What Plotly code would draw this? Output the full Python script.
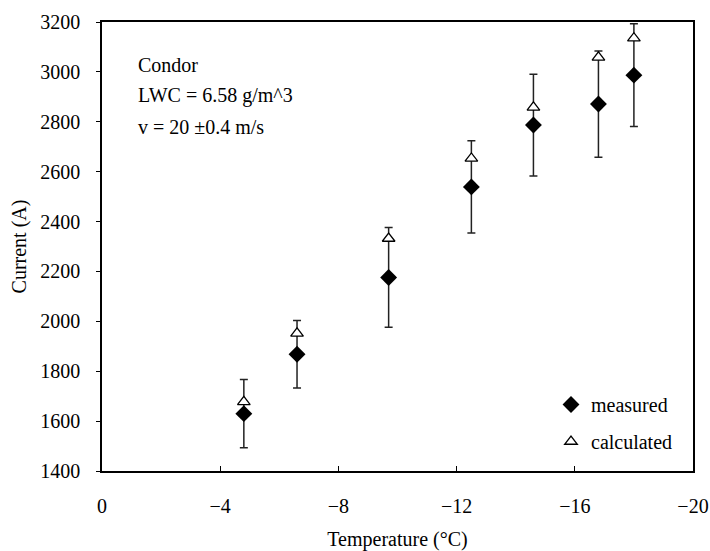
import plotly.graph_objects as go

# Ice-shedding current vs air temperature for the Condor conductor
temperature = [-4.8, -6.6, -9.7, -12.5, -14.6, -16.8, -18.0]
current_measured = [1630, 1868, 2176, 2539, 2787, 2871, 2987]
current_error = [137, 135, 200, 185, 204, 213, 206]
current_calculated = [1677, 1952, 2332, 2653, 2858, 3058, 3135]

x_ticks = [0, -4, -8, -12, -16, -20]
y_ticks = [1400, 1600, 1800, 2000, 2200, 2400, 2600, 2800, 3000, 3200]
note_lines = ["Condor", "LWC = 6.58 g/m^3", "v = 20 \u00b10.4 m/s"]

FONT = "Liberation Serif"
W, H = 710, 551
L, R, T, B = 102, 17, 22, 80

fig = go.Figure()

fig.add_trace(go.Scatter(
    x=temperature, y=current_measured, mode="markers", name="measured",
    legendgroup="m",
    marker=dict(symbol="diamond", size=13, color="black"),
    error_y=dict(type="data", array=current_error, visible=True,
                 color="#222222", thickness=1.5, width=4),
))
fig.add_trace(go.Scatter(
    x=temperature, y=current_calculated, mode="markers", name="calculated",
    legendgroup="c",
    marker=dict(symbol="triangle-up", size=11, color="white",
                line=dict(color="black", width=1.3)),
))

plot_h = H - T - B
plot_w = W - L - R
note_px_y = [65, 96, 127]
for text, py in zip(note_lines, note_px_y):
    fig.add_annotation(
        text=text, xref="paper", yref="paper",
        x=(136 - L) / plot_w, y=(H - B - py) / plot_h,
        xanchor="left", yanchor="middle", showarrow=False,
        font=dict(family=FONT, size=20, color="black"),
    )

axis_common = dict(
    showline=True, linecolor="black", linewidth=1.5, mirror=True,
    showgrid=False, zeroline=False, automargin=False,
    tickfont=dict(family=FONT, size=20, color="black"),
    tickcolor="black", tickwidth=1,
    ticklabeloverflow="allow",
)

fig.update_xaxes(
    range=[0, -20], tickvals=x_ticks, ticks="inside", ticklen=5,
    ticklabelstandoff=16,
    title=dict(text="Temperature (\u00b0C)", standoff=17,
               font=dict(family=FONT, size=20, color="black")),
    **axis_common,
)
fig.update_yaxes(
    range=[1400, 3200], tickvals=y_ticks, ticks="outside", ticklen=4,
    ticklabelstandoff=12,
    title=dict(text="Current (A)", standoff=8,
               font=dict(family=FONT, size=20, color="black")),
    **axis_common,
)

fig.update_layout(
    width=W, height=H,
    margin=dict(l=L, r=R, t=T, b=B, pad=0, autoexpand=False),
    paper_bgcolor="white", plot_bgcolor="white",
    showlegend=True,
    legend=dict(
        x=(551 - L) / plot_w, y=(H - B - 385) / plot_h,
        xanchor="left", yanchor="top",
        traceorder="grouped", tracegroupgap=8,
        bgcolor="rgba(0,0,0,0)", borderwidth=0,
        font=dict(family=FONT, size=20, color="black"),
        itemwidth=30,
    ),
)

fig.write_html("out.html")
